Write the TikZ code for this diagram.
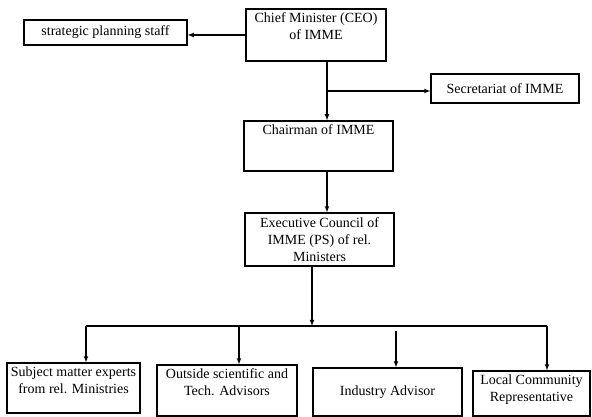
\documentclass[tikz,border=0pt]{standalone}
\usepackage{fontspec}
\setmainfont{Liberation Serif}
\usetikzlibrary{calc}
\newcommand{\cell}[4][t]{\parbox[c][#3][#1]{#2}{\centering #4}}

\begin{document}
\begin{tikzpicture}[x=1pt,y=-1pt,
  box/.style={draw,line width=1.3pt,inner xsep=0pt,inner ysep=4pt,
    font=\fontsize{14}{17}\selectfont},
  arr/.style={->,>=latex,line width=1.1pt}]
\useasboundingbox (0,0) rectangle (592,417);
% top level
\node[box] (staff) at (105.5,32.5) {\cell[c]{163pt}{17pt}{strategic planning staff}};
\node[box] (chief) at (316,35) {\cell{140pt}{44pt}{Chief Minister (CEO)\\ of IMME}};
\node[box] (sec) at (505,88.5) {\cell[c]{148pt}{21pt}{Secretariat of IMME}};
\node[box] (chair) at (318.5,146) {\cell{149pt}{42pt}{Chairman of IMME}};
\node[box] (exec) at (319.5,239.5) {\cell[c]{149pt}{45pt}{Executive Council of\\ IMME (PS) of rel.\\ Ministers}};
% bottom row
\node[box] (sme) at (73.5,388) {\cell{133pt}{42pt}{Subject matter experts\\ from rel. Ministries}};
\node[box] (out) at (227,390.5) {\cell{140pt}{43pt}{Outside scientific and\\ Tech. Advisors}};
\node[box] (ind) at (387.5,392) {\cell[c]{149pt}{40pt}{Industry Advisor}};
\node[box] (loc) at (531.5,393.5) {\cell{117pt}{37pt}{Local Community\\ Representative}};
% connectors
\coordinate (cm) at (327,91);
\coordinate (bus) at (312,326);
\coordinate (d1) at (86,326);
\coordinate (d2) at (239,326);
\coordinate (d3) at (396,331);
\coordinate (d4) at (547,326);
\draw[arr] (chief.west) -- (chief.west -| staff.east);
\draw[line width=1.1pt] (chief.south -| cm) -- (cm);
\draw[arr] (cm) -- (chair.north -| cm);
\draw[arr] (cm) -- (cm -| sec.west);
\draw[arr] (chair.south -| cm) -- (exec.north -| cm);
\draw[arr] (exec.south -| bus) -- (bus);
\draw[line width=1.1pt] (d1) -- (d4);
\draw[arr] (d1) -- (d1 |- sme.north);
\draw[arr] (d2) -- (d2 |- out.north);
\draw[arr] (d3) -- (d3 |- ind.north);
\draw[arr] (d4) -- (d4 |- loc.north);
\end{tikzpicture}
\end{document}
